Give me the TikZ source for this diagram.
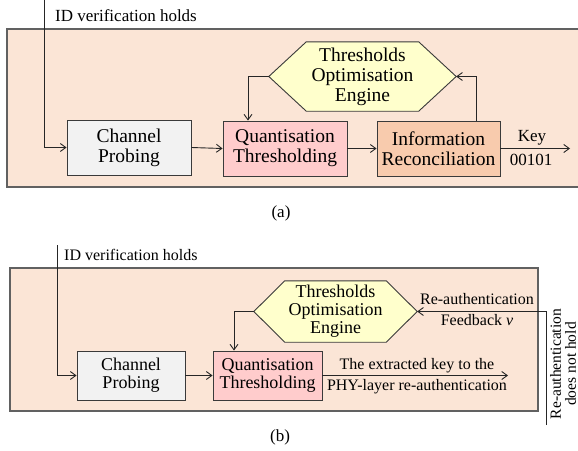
\documentclass[tikz,border=0pt]{standalone}
\usepackage{fontspec}
\setmainfont{Liberation Serif}
\usetikzlibrary{arrows.meta,backgrounds}
\definecolor{panelbg}{HTML}{FBE5D6}
\definecolor{cpfill}{HTML}{F2F2F2}
\definecolor{qtfill}{HTML}{FFCCCC}
\definecolor{irfill}{HTML}{F8CBAD}
\definecolor{hexfill}{HTML}{FFFFCC}
\definecolor{edge}{HTML}{3A3A3A}
\tikzset{
  panel/.style={fill=panelbg, draw=edge!80!white, line width=1.3pt},
  blk/.style={rectangle, draw=edge, line width=0.9pt, align=center, inner sep=0pt},
  hexbox/.style={rectangle, align=center, inner sep=0pt},
  hexline/.style={fill=hexfill, draw=edge, line width=0.9pt, line join=miter},
  arr/.style={-{Straight Barb[length=5.5pt,width=8pt]}, line width=0.9pt, draw=black!85},
  lbl/.style={inner sep=0pt},
  bigA/.style={font=\fontsize{19.5}{20}\selectfont},
  bigB/.style={font=\fontsize{18}{18}\selectfont},
  smallA/.style={font=\fontsize{17}{18}\selectfont},
  smallB/.style={font=\fontsize{16}{17}\selectfont},
}
\begin{document}
\begin{tikzpicture}[x=1pt,y=-1pt]
\useasboundingbox (0,0) rectangle (578,450);

% ---------------- panel (a) ----------------
\node[blk, bigA, fill=cpfill, minimum width=124pt, minimum height=55pt] (cpa) at (129,147.5) {Channel\\Probing};
\node[blk, bigA, fill=qtfill, minimum width=124pt, minimum height=55pt] (qta) at (285,148.5) {Quantisation\\Thresholding};
\node[blk, bigA, fill=irfill, minimum width=123pt, minimum height=55pt] (ira) at (438.5,148.5) {Information\\Reconciliation};
\node[hexbox, bigA, minimum width=187pt, minimum height=69pt] (hexa) at (362.5,76.5) {Thresholds\\Optimisation\\Engine};

\begin{scope}[on background layer]
  \draw[panel] (7,29) rectangle (592,187);
  \draw[hexline] (hexa.west) -- ([xshift=37.5pt]hexa.north west) -- ([xshift=-37.5pt]hexa.north east)
    -- (hexa.east) -- ([xshift=-37.5pt]hexa.south east) -- ([xshift=37.5pt]hexa.south west) -- cycle;
\end{scope}

\coordinate (ida) at (44,-2);
\coordinate (keyenda) at (570,148.5);
\node[lbl, smallA, anchor=base west] (idla) at (55,21) {ID verification holds};
\draw[arr] (ida) |- (cpa.west);
\draw[arr] (cpa.east) -- (qta.west);
\draw[arr] (qta.east) -- (ira.west);
\draw[arr] (hexa.west) -| ([xshift=-37pt]qta.north);
\draw[arr] ([xshift=37.5pt]ira.north) |- (hexa.east);
\draw[arr] (ira.east) -- (keyenda);
\node[lbl, smallA, anchor=base] (keyt) at (532,141) {Key};
\node[lbl, smallA, anchor=base] (keyv) at (531,165) {00101};
\node[lbl, smallA, anchor=base] (capa) at (281,217) {(a)};

% ---------------- panel (b) ----------------
\node[blk, bigB, fill=cpfill, minimum width=108pt, minimum height=49pt] (cpb) at (131,375.5) {Channel\\Probing};
\node[blk, bigB, fill=qtfill, minimum width=109pt, minimum height=49pt] (qtb) at (267.5,375.5) {Quantisation\\Thresholding};
\node[hexbox, bigB, minimum width=163pt, minimum height=61pt] (hexb) at (335.5,311.5) {Thresholds\\Optimisation\\Engine};

\begin{scope}[on background layer]
  \draw[panel] (10,268) rectangle (538,411);
  \draw[hexline] (hexb.west) -- ([xshift=31pt]hexb.north west) -- ([xshift=-31pt]hexb.north east)
    -- (hexb.east) -- ([xshift=-31pt]hexb.south east) -- ([xshift=31pt]hexb.south west) -- cycle;
\end{scope}

\coordinate (idb) at (57,245);
\coordinate (rab) at (546,425);
\coordinate (keyendb) at (508,375.5);
\node[lbl, smallB, anchor=base west] (idlb) at (64,260) {ID verification holds};
\draw[arr] (idb) |- (cpb.west);
\draw[arr] (cpb.east) -- (qtb.west);
\draw[arr] (hexb.west) -| ([xshift=-33.5pt]qtb.north);
\draw[arr] (rab) |- (hexb.east);
\draw[arr] (qtb.east) -- (keyendb);
\node[lbl, smallB, anchor=base] (ext1) at (417,369) {The extracted key to the};
\node[lbl, smallB, anchor=base] (ext2) at (417,390) {PHY-layer re-authentication};
\node[lbl, smallB, anchor=base] (fb1) at (477,304) {Re-authentication};
\node[lbl, smallB, anchor=base] (fb2) at (477,325) {Feedback \textit{v}};
\node[lbl, font=\fontsize{15.5}{15}\selectfont, align=center, rotate=90] (rav) at (563,364) {Re-authentication\\does not hold};
\node[lbl, smallA, anchor=base] (capb) at (280,441) {(b)};
\end{tikzpicture}
\end{document}
